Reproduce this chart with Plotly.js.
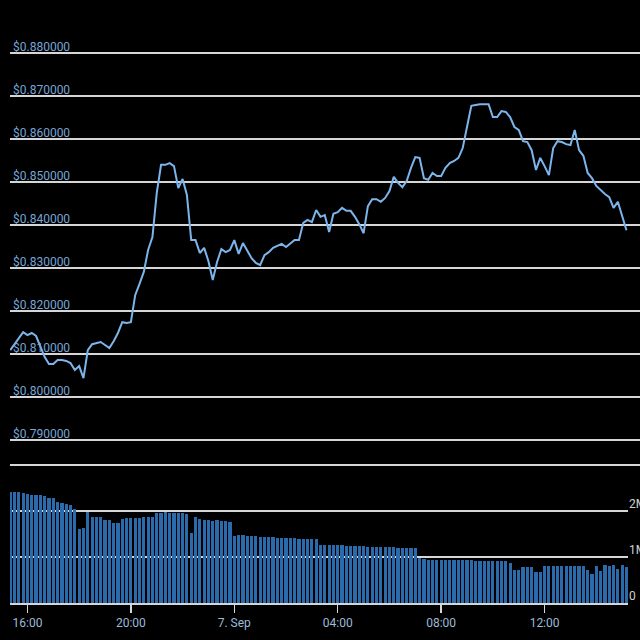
<!DOCTYPE html>
<html>
<head>
<meta charset="utf-8">
<script src="https://cdn.plot.ly/plotly-3.0.1.min.js"></script>
<style>
html,body{margin:0;padding:0;background:#000;}
#chart{width:640px;height:640px;}
</style>
</head>
<body>
<div id="chart"></div>
<script>
// ---- data (10-minute samples) ----
var startTime = "2023-09-06T15:20:00";
var stepMinutes = 10;

var prices = [
  0.8109,0.8123,0.8137,0.8151,0.8144,0.8149,0.8142,0.8116,0.8093,0.8077,
  0.8077,0.8086,0.8086,0.8084,0.8079,0.8063,0.8072,0.8044,0.8109,0.8123,
  0.8126,0.8128,0.8121,0.8114,0.8130,0.8149,0.8174,0.8172,0.8174,0.8237,
  0.8263,0.8291,0.8342,0.8372,0.8474,0.8540,0.8540,0.8544,0.8537,0.8486,
  0.8507,0.8470,0.8365,0.8365,0.8335,0.8347,0.8316,0.8272,0.8314,0.8344,
  0.8337,0.8342,0.8365,0.8333,0.8358,0.8340,0.8323,0.8312,0.8307,0.8330,
  0.8337,0.8347,0.8351,0.8356,0.8349,0.8356,0.8365,0.8365,0.8405,0.8412,
  0.8407,0.8435,0.8419,0.8423,0.8384,0.8426,0.8430,0.8440,0.8433,0.8433,
  0.8419,0.8402,0.8381,0.8444,0.8460,0.8460,0.8454,0.8463,0.8479,0.8512,
  0.8498,0.8488,0.8502,0.8533,0.8558,0.8556,0.8509,0.8505,0.8521,0.8514,
  0.8514,0.8533,0.8544,0.8549,0.8556,0.8579,0.8626,0.8677,0.8679,0.8681,
  0.8681,0.8681,0.8651,0.8651,0.8665,0.8663,0.8651,0.8628,0.8621,0.8595,
  0.8593,0.8574,0.8528,0.8556,0.8537,0.8516,0.8579,0.8595,0.8593,0.8588,
  0.8586,0.8621,0.8574,0.8561,0.8521,0.8509,0.8491,0.8481,0.8472,0.8465,
  0.8440,0.8454,0.8423,0.8388
];

// volume in millions
var volumes = [
  2.41,2.41,2.41,2.40,2.36,2.35,2.35,2.34,2.32,2.28,
  2.28,2.20,2.17,2.15,2.13,2.05,1.60,1.62,1.98,1.88,
  1.87,1.86,1.80,1.80,1.74,1.74,1.82,1.85,1.85,1.85,
  1.85,1.86,1.86,1.88,1.96,1.96,1.97,1.96,1.96,1.95,
  1.95,1.93,1.52,1.86,1.82,1.80,1.80,1.79,1.80,1.78,
  1.78,1.77,1.45,1.48,1.47,1.46,1.45,1.45,1.44,1.44,
  1.43,1.43,1.42,1.42,1.42,1.41,1.41,1.40,1.40,1.40,
  1.39,1.39,1.27,1.27,1.26,1.26,1.26,1.26,1.25,1.25,
  1.25,1.24,1.24,1.22,1.22,1.22,1.21,1.21,1.21,1.21,
  1.20,1.20,1.20,1.19,1.19,0.98,0.95,0.94,0.94,0.94,
  0.93,0.93,0.93,0.93,0.93,0.93,0.93,0.93,0.92,0.92,
  0.92,0.92,0.92,0.92,0.92,0.92,0.88,0.72,0.72,0.78,
  0.78,0.78,0.67,0.67,0.80,0.80,0.80,0.80,0.80,0.80,
  0.80,0.80,0.80,0.80,0.72,0.62,0.80,0.70,0.82,0.80,
  0.82,0.75,0.82,0.78
];

var priceTicks = [0.79,0.80,0.81,0.82,0.83,0.84,0.85,0.86,0.87,0.88];
var priceTickText = priceTicks.map(function(v){ return "$" + v.toFixed(6); });
var volumeTicks = [0, 1, 2];
var volumeTickText = ["0", "1M", "2M"];
var timeTicks = ["2023-09-06T16:00:00","2023-09-06T20:00:00","2023-09-07T00:00:00",
                 "2023-09-07T04:00:00","2023-09-07T08:00:00","2023-09-07T12:00:00"];
var timeTickText = ["16:00","20:00","7. Sep","04:00","08:00","12:00"];

// ---- build time axis ----
function pad(n){return (n<10?"0":"")+n;}
function fmt(d){
  return d.getUTCFullYear()+"-"+pad(d.getUTCMonth()+1)+"-"+pad(d.getUTCDate())+" "+
         pad(d.getUTCHours())+":"+pad(d.getUTCMinutes())+":"+pad(d.getUTCSeconds());
}
var t0 = new Date(startTime+"Z").getTime();
var times = prices.map(function(_, i){ return fmt(new Date(t0 + i*stepMinutes*60000)); });

var rangeStart = fmt(new Date(t0 - 0.5*60000));
var volRangeEnd = fmt(new Date(t0 + 1433.6*60000));
var priceRangeEnd = fmt(new Date(t0 + 1461.4*60000));

var W = 640, H = 640;
var font = "Roboto, 'Noto Sans', sans-serif";

var traces = [
  {
    type: "scatter", mode: "lines",
    x: times, y: prices,
    xaxis: "x", yaxis: "y",
    line: {color: "#7cb5ec", width: 2},
    hoverinfo: "skip"
  },
  {
    type: "bar",
    x: times, y: volumes,
    xaxis: "x2", yaxis: "y2",
    width: 7.4*60000,
    marker: {color: "#2b6aab", line: {width: 0}},
    hoverinfo: "skip"
  }
];

var layout = {
  width: W, height: H,
  paper_bgcolor: "#000", plot_bgcolor: "#000",
  margin: {l: 0, r: 0, t: 0, b: 0, pad: 0},
  showlegend: false,
  font: {family: font, size: 12, color: "#9dbbd9"},
  bargap: 0,
  xaxis: {
    type: "date",
    domain: [10/W, 1],
    range: [rangeStart, priceRangeEnd],
    anchor: "y",
    showticklabels: false, ticks: "",
    showgrid: false, zeroline: false,
    showline: true, linecolor: "#d6d6d6", linewidth: 1.5
  },
  yaxis: {
    domain: [1-464/H, 1-20/H],
    range: [0.78444, 0.88767],
    anchor: "x",
    tickvals: priceTicks, ticktext: priceTickText,
    ticklabelposition: "inside",
    ticklabelstandoff: 0,
    ticklabelshift: -6,
    tickfont: {family: font, size: 12, color: "#76a6d6"},
    ticks: "",
    showgrid: true, gridcolor: "#d6d6d6", gridwidth: 1.5,
    zeroline: false, showline: false
  },
  xaxis2: {
    type: "date",
    domain: [10/W, 628/W],
    range: [rangeStart, volRangeEnd],
    anchor: "y2",
    tickvals: timeTicks, ticktext: timeTickText,
    ticks: "outside", ticklen: 8, tickwidth: 1.5, tickcolor: "#d6d6d6",
    tickfont: {family: font, size: 12, color: "#9dbbd9"},
    showgrid: false, zeroline: false,
    showline: true, linecolor: "#d6d6d6", linewidth: 1.5
  },
  yaxis2: {
    domain: [1-603/H, 1-485/H],
    range: [0, 2.565],
    anchor: "x2",
    side: "right",
    tickvals: volumeTicks, ticktext: volumeTickText,
    ticklabelposition: "outside",
    ticklabelstandoff: 0,
    ticklabelshift: -7,
    tickfont: {family: font, size: 12, color: "#d0d0d0"},
    ticks: "",
    showgrid: true, gridcolor: "#d6d6d6", gridwidth: 1.5,
    zeroline: false, showline: false
  }
};

Plotly.newPlot("chart", traces, layout, {displayModeBar: false, staticPlot: true});
</script>
</body>
</html>
